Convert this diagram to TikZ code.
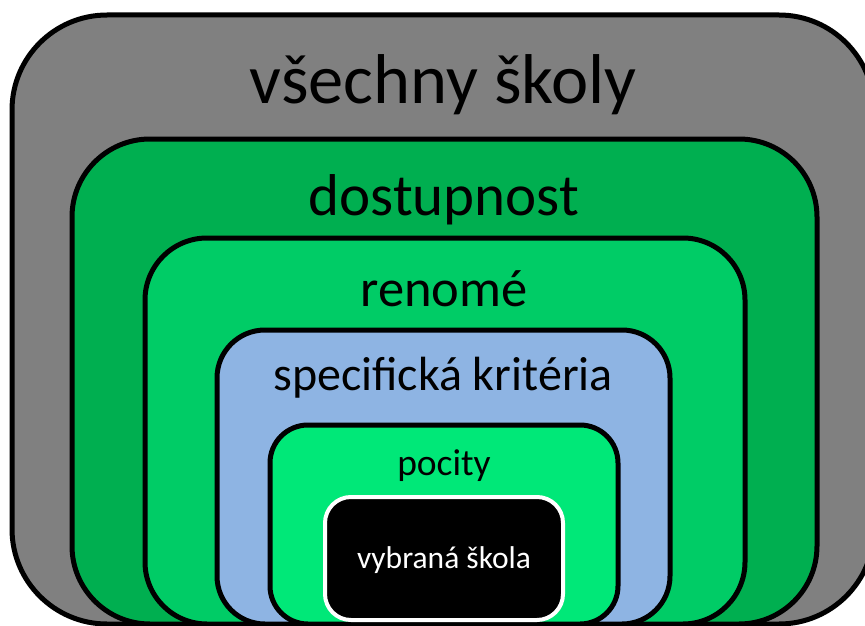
\documentclass[tikz,border=0pt]{standalone}
\usepackage{fontspec}
\setmainfont{Carlito}
\definecolor{outergray}{HTML}{808080}
\definecolor{darkgreen}{HTML}{00AF50}
\definecolor{midgreen}{HTML}{00CC66}
\definecolor{paleblue}{HTML}{8EB4E3}
\definecolor{lightgreen}{HTML}{00E878}
\begin{document}
\begin{tikzpicture}[x=1pt,y=-1pt,
  layer/.style={draw=black,line width=5pt},
  caption/.style={anchor=base,inner sep=0pt,text=black}]
\clip (0,0) rectangle (865,626);
\fill[white] (0,0) rectangle (865,626);
% nested areas, outermost first
\draw[layer,fill=outergray,rounded corners=95pt] (12,15) rectangle (874,624);
\draw[layer,fill=darkgreen,rounded corners=78pt] (72,139) rectangle (817,624);
\draw[layer,fill=midgreen,rounded corners=62pt] (145,238) rectangle (745,624);
\draw[layer,fill=paleblue,rounded corners=48pt] (217,330) rectangle (670,624);
\draw[layer,fill=lightgreen,rounded corners=38pt] (270,425) rectangle (618,624);
\draw[draw=white,line width=4pt,fill=black,rounded corners=26pt] (325,497) rectangle (563,620);
% labels
\node[caption,font=\fontsize{70.5}{74}\selectfont] (all) at (443,103) {všechny školy};
\node[caption,font=\fontsize{59}{64}\selectfont] (access) at (444,215) {dostupnost};
\node[caption,font=\fontsize{52.5}{56}\selectfont] (renown) at (444,306) {renomé};
\node[caption,font=\fontsize{48}{52}\selectfont] (criteria) at (443,390) {specifická kritéria};
\node[caption,font=\fontsize{37.5}{40}\selectfont] (feel) at (444,475) {pocity};
\node[caption,text=white,font=\fontsize{31.5}{34}\selectfont] (chosen) at (444,568) {vybraná škola};
\end{tikzpicture}
\end{document}
